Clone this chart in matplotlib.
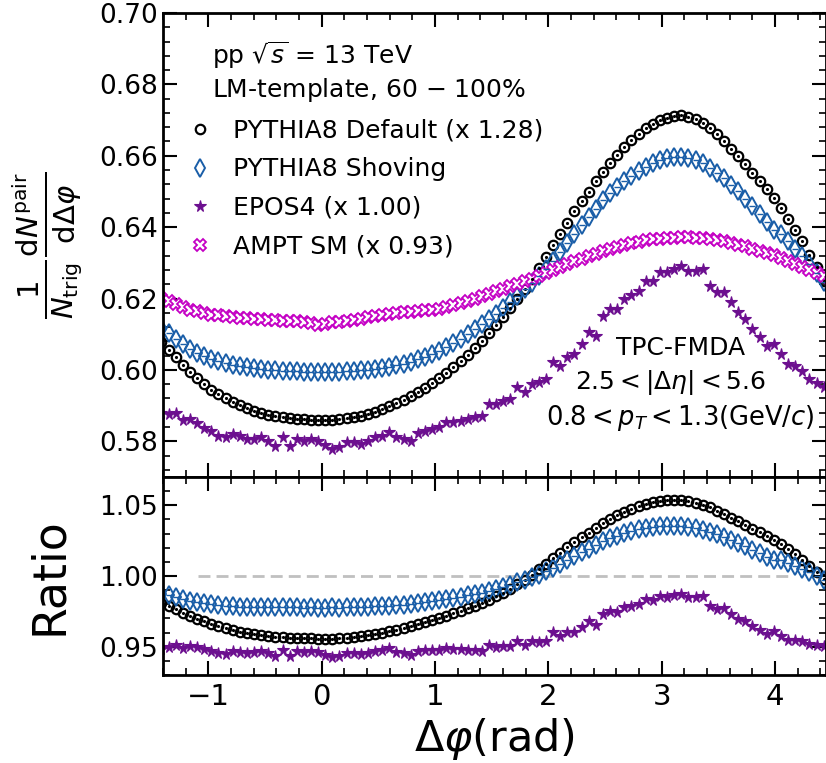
import numpy as np
import matplotlib
matplotlib.use('Agg')
import matplotlib.pyplot as plt
from matplotlib.ticker import MultipleLocator, FormatStrFormatter

# 100 bins over [-pi/2, 3pi/2], bins 2..96 fall inside the drawn window
edges = np.linspace(-np.pi/2, 3*np.pi/2, 101)
dphi = 0.5*(edges[:-1] + edges[1:])[2:97]

pythia_default = [
    0.6078, 0.6057, 0.6035, 0.6014, 0.5995, 0.5977, 0.5960, 0.5945, 0.5932, 0.5920,
    0.5910, 0.5901, 0.5893, 0.5886, 0.5880, 0.5875, 0.5871, 0.5868, 0.5865, 0.5863,
    0.5862, 0.5861, 0.5860, 0.5859, 0.5860, 0.5862, 0.5865, 0.5868, 0.5872, 0.5877,
    0.5883, 0.5890, 0.5898, 0.5906, 0.5916, 0.5926, 0.5938, 0.5950, 0.5963, 0.5977,
    0.5992, 0.6008, 0.6025, 0.6043, 0.6062, 0.6082, 0.6103, 0.6125, 0.6148, 0.6173,
    0.6199, 0.6227, 0.6256, 0.6286, 0.6317, 0.6349, 0.6381, 0.6413, 0.6444, 0.6472,
    0.6499, 0.6528, 0.6555, 0.6580, 0.6603, 0.6625, 0.6645, 0.6662, 0.6677, 0.6690,
    0.6700, 0.6707, 0.6712, 0.6713, 0.6710, 0.6703, 0.6692, 0.6678, 0.6660, 0.6640,
    0.6620, 0.6598, 0.6576, 0.6553, 0.6530, 0.6506, 0.6481, 0.6454, 0.6424, 0.6393,
    0.6360, 0.6323, 0.6287, 0.6250, 0.6213]

pythia_shoving = [
    0.6118, 0.6104, 0.6088, 0.6072, 0.6059, 0.6048, 0.6039, 0.6031, 0.6024, 0.6018,
    0.6013, 0.6010, 0.6007, 0.6005, 0.6003, 0.6001, 0.5999, 0.5998, 0.5997, 0.5996,
    0.5995, 0.5995, 0.5994, 0.5994, 0.5995, 0.5995, 0.5996, 0.5997, 0.5999, 0.6001,
    0.6003, 0.6006, 0.6009, 0.6013, 0.6017, 0.6022, 0.6030, 0.6037, 0.6045, 0.6054,
    0.6064, 0.6075, 0.6087, 0.6100, 0.6114, 0.6128, 0.6143, 0.6158, 0.6174, 0.6191,
    0.6208, 0.6226, 0.6244, 0.6263, 0.6284, 0.6305, 0.6330, 0.6355, 0.6381, 0.6405,
    0.6428, 0.6452, 0.6475, 0.6495, 0.6513, 0.6529, 0.6544, 0.6557, 0.6569, 0.6579,
    0.6587, 0.6593, 0.6596, 0.6597, 0.6594, 0.6588, 0.6579, 0.6567, 0.6553, 0.6537,
    0.6519, 0.6500, 0.6480, 0.6459, 0.6437, 0.6414, 0.6391, 0.6381, 0.6361, 0.6340,
    0.6318, 0.6296, 0.6271, 0.6247, 0.6222]

epos4 = [
    0.5878, 0.5877, 0.5878, 0.5860, 0.5863, 0.5852, 0.5838, 0.5828, 0.5816, 0.5811,
    0.5821, 0.5815, 0.5807, 0.5807, 0.5811, 0.5802, 0.5788, 0.5811, 0.5788, 0.5807,
    0.5802, 0.5807, 0.5802, 0.5790, 0.5779, 0.5783, 0.5797, 0.5797, 0.5793, 0.5802,
    0.5811, 0.5816, 0.5825, 0.5811, 0.5807, 0.5802, 0.5824, 0.5830, 0.5835, 0.5839,
    0.5853, 0.5853, 0.5858, 0.5863, 0.5868, 0.5872, 0.5905, 0.5905, 0.5912, 0.5919,
    0.5951, 0.5937, 0.5961, 0.5965, 0.5975, 0.6021, 0.6012, 0.6035, 0.6045, 0.6073,
    0.6105, 0.6096, 0.6152, 0.6171, 0.6171, 0.6199, 0.6210, 0.6222, 0.6250, 0.6250,
    0.6273, 0.6273, 0.6283, 0.6292, 0.6278, 0.6278, 0.6283, 0.6236, 0.6217, 0.6217,
    0.6189, 0.6161, 0.6143, 0.6115, 0.6091, 0.6068, 0.6073, 0.6045, 0.6017, 0.6012,
    0.5998, 0.5975, 0.5963, 0.5951, 0.5940]

ampt_sm = [
    0.6201, 0.6192, 0.6184, 0.6176, 0.6169, 0.6164, 0.6160, 0.6155, 0.6153, 0.6150,
    0.6147, 0.6146, 0.6145, 0.6143, 0.6143, 0.6141, 0.6139, 0.6138, 0.6138, 0.6137,
    0.6134, 0.6131, 0.6126, 0.6130, 0.6133, 0.6135, 0.6136, 0.6140, 0.6143, 0.6147,
    0.6150, 0.6154, 0.6157, 0.6159, 0.6161, 0.6163, 0.6165, 0.6167, 0.6169, 0.6172,
    0.6176, 0.6181, 0.6187, 0.6194, 0.6200, 0.6207, 0.6214, 0.6220, 0.6227, 0.6234,
    0.6241, 0.6249, 0.6256, 0.6264, 0.6272, 0.6280, 0.6288, 0.6296, 0.6304, 0.6312,
    0.6319, 0.6326, 0.6333, 0.6339, 0.6345, 0.6350, 0.6355, 0.6359, 0.6363, 0.6366,
    0.6368, 0.6370, 0.6371, 0.6372, 0.6372, 0.6371, 0.6369, 0.6367, 0.6364, 0.6360,
    0.6356, 0.6351, 0.6346, 0.6340, 0.6334, 0.6328, 0.6321, 0.6313, 0.6305, 0.6297,
    0.6289, 0.6280, 0.6271, 0.6262, 0.6253]

# denominator of the ratio panel
reference = [
    0.6196, 0.6188, 0.6181, 0.6174, 0.6168, 0.6163, 0.6158, 0.6154, 0.6151, 0.6148,
    0.6145, 0.6143, 0.6141, 0.6139, 0.6137, 0.6136, 0.6135, 0.6134, 0.6133, 0.6132,
    0.6132, 0.6131, 0.6131, 0.6131, 0.6131, 0.6132, 0.6132, 0.6133, 0.6133, 0.6134,
    0.6135, 0.6136, 0.6138, 0.6140, 0.6142, 0.6145, 0.6148, 0.6151, 0.6155, 0.6160,
    0.6165, 0.6171, 0.6178, 0.6185, 0.6193, 0.6201, 0.6208, 0.6215, 0.6222, 0.6229,
    0.6236, 0.6243, 0.6250, 0.6257, 0.6264, 0.6271, 0.6278, 0.6285, 0.6292, 0.6299,
    0.6306, 0.6313, 0.6320, 0.6326, 0.6332, 0.6338, 0.6343, 0.6348, 0.6353, 0.6358,
    0.6362, 0.6366, 0.6369, 0.6371, 0.6372, 0.6372, 0.6371, 0.6369, 0.6366, 0.6362,
    0.6358, 0.6353, 0.6347, 0.6341, 0.6334, 0.6327, 0.6319, 0.6311, 0.6303, 0.6295,
    0.6287, 0.6279, 0.6271, 0.6263, 0.6255]

labels = ['PYTHIA8 Default (x 1.28)', 'PYTHIA8 Shoving', 'EPOS4 (x 1.00)', 'AMPT SM (x 0.93)']

c_blue = '#1a5ea8'
c_purple = '#6c0f8f'
c_mag = '#c400c4'

ref = np.array(reference)
r_default = np.array(pythia_default)/ref
r_shoving = np.array(pythia_shoving)/ref
r_epos = np.array(epos4)/ref

fig = plt.figure(figsize=(8.26, 7.63), dpi=100)
ax = fig.add_axes([163/826, 1-477/763, 663/826, 464/763])
axr = fig.add_axes([163/826, 1-675/763, 663/826, 198/763], sharex=ax)

sty = [dict(marker='o', ms=6.8, mfc='none', mec='k', mew=1.6),
       dict(marker='d', ms=9, mfc='none', mec=c_blue, mew=1.4),
       dict(marker='*', ms=8.5, mfc=c_purple, mec=c_purple, mew=0.8),
       dict(marker='X', ms=8.5, mfc='white', mec=c_mag, mew=1.3)]

ax.plot(dphi, pythia_default, ls='none', label=labels[0], **sty[0])
ax.plot(dphi, pythia_shoving, ls='none', label=labels[1], **sty[1])
ax.plot(dphi, epos4, ls='none', label=labels[2], **sty[2])
ax.plot(dphi, ampt_sm, ls='none', label=labels[3], **sty[3])
ax.plot(dphi, pythia_default, ls='none', marker='.', ms=2.5, color='k')
ax.plot(dphi, pythia_shoving, ls='none', marker='_', ms=4, mew=1, color=c_blue)

axr.hlines(1.0, -1.09, 4.16, colors='#c0c0c0', linestyles=(0, (4.3, 2.2)), lw=2)
axr.plot(dphi, r_default, ls='none', **sty[0])
axr.plot(dphi, r_shoving, ls='none', **sty[1])
axr.plot(dphi, r_epos, ls='none', **sty[2])
axr.plot(dphi, r_default, ls='none', marker='.', ms=2.5, color='k')
axr.plot(dphi, r_shoving, ls='none', marker='_', ms=4, mew=1, color=c_blue)

ax.set_xlim(-1.4, 4.45)
ax.set_ylim(0.57, 0.70)
axr.set_ylim(0.93, 1.07)

ax.yaxis.set_major_locator(MultipleLocator(0.02))
ax.yaxis.set_minor_locator(MultipleLocator(0.004))
ax.yaxis.set_major_formatter(FormatStrFormatter('%.2f'))
axr.yaxis.set_major_locator(MultipleLocator(0.05))
axr.yaxis.set_minor_locator(MultipleLocator(0.01))
axr.yaxis.set_major_formatter(FormatStrFormatter('%.2f'))
axr.xaxis.set_major_locator(MultipleLocator(1))
axr.xaxis.set_minor_locator(MultipleLocator(0.2))

for a in (ax, axr):
    a.tick_params(which='both', direction='in', top=True, right=True)
    a.tick_params(which='major', length=10, width=1.5, labelsize=19)
    a.tick_params(which='minor', length=5, width=1.2)
    for s in a.spines.values():
        s.set_linewidth(2)
ax.tick_params(labelbottom=False)
axr.tick_params(axis='x', labelsize=21, pad=6)

ax.set_ylabel(r'$\frac{1}{N_{\rm trig}}\frac{{\rm d}N^{\rm pair}}{{\rm d}\Delta\varphi}$',
              fontsize=30)
axr.set_ylabel('Ratio', fontsize=33)
axr.set_xlabel(r'$\Delta\varphi$(rad)', fontsize=31, labelpad=3)
ax.yaxis.set_label_coords(-0.118, 0.5)
axr.yaxis.set_label_coords(-0.138, 0.5)

ax.text(0.074, 0.909, r'pp $\sqrt{s}$ = 13 TeV', transform=ax.transAxes,
        fontsize=18, va='center', ha='left')
ax.text(0.074, 0.834, r'LM-template, 60 $-$ 100%', transform=ax.transAxes,
        fontsize=18, va='center', ha='left')
ax.legend(loc='upper left', bbox_to_anchor=(0.037, 0.772), frameon=False,
          fontsize=18, numpoints=1, handlelength=1.0, handletextpad=0.8,
          labelspacing=0.58, borderpad=0, borderaxespad=0)

ax.text(0.78, 0.278, 'TPC-FMDA', transform=ax.transAxes, fontsize=18,
        ha='center', va='center')
ax.text(0.765, 0.203, r'$2.5<|\Delta\eta|<5.6$', transform=ax.transAxes,
        fontsize=18, ha='center', va='center')
ax.text(0.78, 0.127, r'$0.8<p_{T}<1.3$(GeV/$c$)', transform=ax.transAxes,
        fontsize=18.5, ha='center', va='center')

fig.savefig('out.png', dpi=100)
